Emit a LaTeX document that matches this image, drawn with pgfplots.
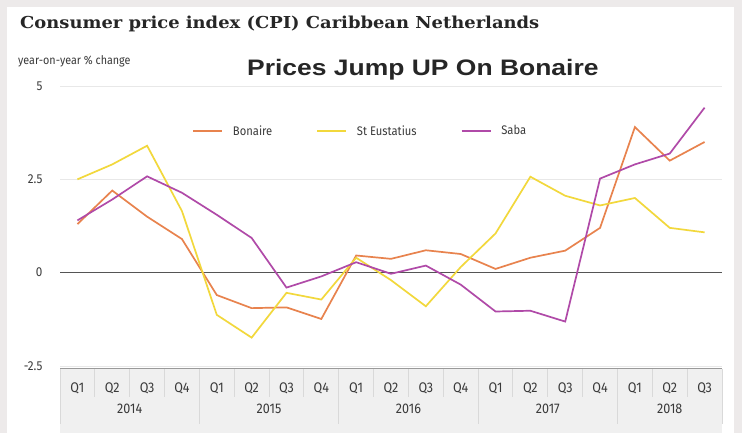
\documentclass[border=0pt]{standalone}
\usepackage{fontspec}
\setmainfont{Fira Sans}
\newfontfamily\titlefont[FakeStretch=1.09]{DejaVu Serif}
\newfontfamily\headfont[FakeStretch=1.18]{Liberation Sans}
\newfontfamily\tickfont[FakeStretch=0.9]{Fira Sans}
\usepackage{pgfplots}
\usepackage{pgfplotstable}
\pgfplotsset{compat=1.18}

\definecolor{bon}{HTML}{E8834E}
\definecolor{eus}{HTML}{F2D83C}
\definecolor{sab}{HTML}{B04AA8}
\definecolor{outerbg}{HTML}{EDEAEA}
\definecolor{labelbg}{HTML}{F0F0F0}
\definecolor{sepc}{HTML}{D9D9D9}
\definecolor{gridc}{HTML}{E8E8E8}
\definecolor{zeroc}{HTML}{555555}
\definecolor{botc}{HTML}{9A9A9A}
\definecolor{tickc}{HTML}{3A3A3A}

% quarter index, Bonaire, St Eustatius, Saba
\pgfplotstableread{
i  bon    eus    sab
0  1.30   2.50   1.40
1  2.20   2.90   1.96
2  1.50   3.40   2.58
3  0.90   1.65   2.14
4  -0.60  -1.13  1.55
5  -0.95  -1.74  0.93
6  -0.93  -0.54  -0.40
7  -1.24  -0.72  -0.10
8  0.46   0.40   0.28
9  0.37   -0.20  -0.03
10 0.60   -0.90  0.19
11 0.50   0.15   -0.32
12 0.10   1.05   -1.04
13 0.40   2.57   -1.02
14 0.59   2.06   -1.31
15 1.20   1.80   2.52
16 3.90   2.00   2.90
17 3.00   1.20   3.19
18 3.50   1.08   4.42
}\cpi

\begin{document}
\begin{tikzpicture}[x=1bp,y=1bp]
\useasboundingbox (0,0) rectangle (742,433);
\fill[outerbg] (0,0) rectangle (742,433);
\fill[white] (7,0) rectangle (734,426);
\fill[labelbg] (60,0) rectangle (722,64);

\node[anchor=base west, inner sep=0, text=black!85,
      font=\titlefont\bfseries\fontsize{16.5}{18}\selectfont] at (20,404)
  {Consumer price index (CPI) Caribbean Netherlands};
\node[anchor=base west, inner sep=0, text=tickc,
      font=\tickfont\fontsize{12}{12}\selectfont] at (18,368)
  {year-on-year \% change};
\node[anchor=base west, inner sep=0, text=black!85,
      font=\headfont\bfseries\fontsize{22.5}{24}\selectfont] at (247,357)
  {Prices Jump UP On Bonaire};

\begin{axis}[
  at={(60bp,64bp)}, anchor=south west,
  width=662bp, height=283bp, scale only axis,
  xmin=-0.5, xmax=18.5, ymin=-2.58, ymax=5,
  axis line style={draw=none},
  tick style={draw=none}, major tick length=0pt,
  xtick={0,...,18},
  xticklabels={Q1,Q2,Q3,Q4,Q1,Q2,Q3,Q4,Q1,Q2,Q3,Q4,Q1,Q2,Q3,Q4,Q1,Q2,Q3},
  ytick={-2.5,0,2.5,5}, yticklabels={-2.5,0,2.5,5},
  ymajorgrids, grid style={color=gridc, line width=0.8bp},
  xticklabel style={font=\tickfont\fontsize{14}{14}\selectfont, text=tickc,
                    anchor=center, yshift=-19bp},
  yticklabel style={font=\tickfont\fontsize{13}{13}\selectfont, text=tickc,
                    anchor=east, xshift=-14bp},
  legend columns=3,
  legend style={at={(0.195,0.841)}, anchor=west, draw=none, fill=none,
                font=\tickfont\fontsize{12.5}{13}\selectfont, text=tickc,
                /tikz/every even column/.append style={column sep=42bp}},
  legend image code/.code={\draw[#1] (0bp,0bp) -- (29bp,0bp);
                           \path (37bp,0bp);},
  every axis plot/.append style={line width=1.7bp, no markers},
]
\draw[botc, line width=1bp] (rel axis cs:0,0) -- (rel axis cs:1,0);
\draw[zeroc, line width=1.2bp] (axis cs:-0.5,0) -- (axis cs:18.5,0);
\addplot[color=bon] table[x=i, y=bon] {\cpi};
\addlegendentry{Bonaire}
\addplot[color=eus] table[x=i, y=eus] {\cpi};
\addlegendentry{St Eustatius}
\addplot[color=sab] table[x=i, y=sab] {\cpi};
\addlegendentry{Saba}
\end{axis}

\foreach \k in {1,2,3,5,6,7,9,10,11,13,14,15,17,18}
  \draw[sepc, line width=1bp] ({60+34.842*\k},64) -- ++(0,-28);
\foreach \k in {0,4,8,12,16,19}
  \draw[sepc, line width=1bp] ({60+34.842*\k},64) -- ++(0,-55);
\foreach \c/\y in {2/2014,6/2015,10/2016,14/2017,17.5/2018}
  \node[font=\tickfont\fontsize{14}{14}\selectfont, text=tickc]
    at ({60+34.842*\c},24) {\y};
\end{tikzpicture}
\end{document}
